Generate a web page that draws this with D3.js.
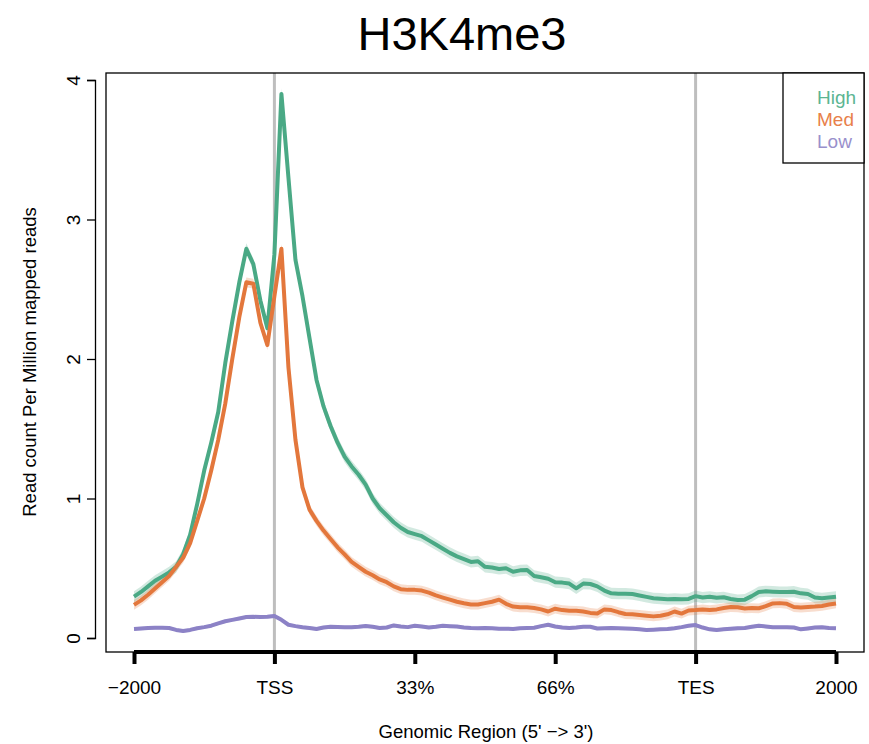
<!DOCTYPE html>
<html>
<head>
<meta charset="utf-8">
<script src="https://cdn.jsdelivr.net/npm/d3@7"></script>
<style>
  html, body { margin: 0; padding: 0; background: #fff; }
  svg { display: block; font-family: "Liberation Sans", Arial, Helvetica, sans-serif; }
</style>
</head>
<body>
<svg id="chart" width="869" height="744"></svg>
<script>
// ---- data ----
const title = "H3K4me3";
const xTickPositions = [0, 20, 40, 60, 80, 100];
const xTickLabels = ["\u22122000", "TSS", "33%", "66%", "TES", "2000"];
const yTicks = [0, 1, 2, 3, 4];
const seriesNames = ["High", "Med", "Low"];
const seriesColors = ["#4aa985", "#e3773c", "#8c82c6"];
const legendColors = ["#5cb592", "#e8804a", "#9990cc"];
const bandHalfWidth = [0.04, 0.035, 0.012];

const high = [0.296,0.33,0.37,0.41,0.44,0.47,0.51,0.60,0.74,0.96,
  1.20,1.40,1.62,1.97,2.27,2.55,2.79,2.68,2.42,2.22,
  2.75,3.90,3.30,2.71,2.45,2.15,1.85,1.66,1.52,1.40,
  1.30,1.23,1.17,1.10,1.00,0.93,0.88,0.83,0.79,0.76,
  0.745,0.73,0.70,0.67,0.64,0.61,0.585,0.565,0.545,0.55,
  0.51,0.505,0.495,0.50,0.475,0.485,0.487,0.445,0.435,0.425,
  0.40,0.397,0.39,0.356,0.39,0.387,0.37,0.34,0.32,0.318,
  0.318,0.315,0.305,0.295,0.285,0.282,0.278,0.28,0.278,0.28,
  0.30,0.29,0.295,0.288,0.292,0.28,0.272,0.275,0.30,0.33,
  0.335,0.332,0.33,0.33,0.332,0.32,0.315,0.29,0.285,0.29,0.296];

const med = [0.237,0.27,0.31,0.355,0.40,0.445,0.51,0.575,0.68,0.84,
  1.00,1.20,1.42,1.68,2.00,2.30,2.55,2.54,2.26,2.10,
  2.45,2.79,1.94,1.42,1.08,0.92,0.84,0.77,0.71,0.65,
  0.60,0.545,0.51,0.475,0.45,0.42,0.40,0.37,0.35,0.345,
  0.345,0.34,0.325,0.305,0.29,0.275,0.26,0.249,0.24,0.24,
  0.25,0.26,0.275,0.245,0.225,0.22,0.22,0.215,0.205,0.19,
  0.21,0.20,0.196,0.195,0.19,0.18,0.175,0.205,0.20,0.185,
  0.172,0.17,0.165,0.16,0.155,0.16,0.17,0.19,0.175,0.197,
  0.20,0.205,0.20,0.205,0.215,0.222,0.22,0.212,0.215,0.213,
  0.228,0.248,0.25,0.245,0.222,0.218,0.222,0.225,0.23,0.24,0.248];

const low = [0.065,0.068,0.072,0.074,0.074,0.072,0.058,0.05,0.058,0.07,
  0.078,0.088,0.105,0.12,0.13,0.14,0.15,0.152,0.15,0.152,
  0.158,0.13,0.095,0.085,0.077,0.072,0.065,0.075,0.08,0.078,
  0.077,0.077,0.08,0.086,0.08,0.072,0.075,0.09,0.082,0.078,
  0.088,0.082,0.076,0.08,0.088,0.085,0.082,0.076,0.072,0.07,
  0.072,0.07,0.066,0.066,0.065,0.07,0.072,0.074,0.085,0.095,
  0.082,0.075,0.072,0.075,0.08,0.081,0.068,0.07,0.072,0.07,
  0.068,0.066,0.062,0.058,0.06,0.062,0.064,0.07,0.078,0.088,
  0.093,0.075,0.062,0.057,0.062,0.066,0.07,0.072,0.08,0.088,
  0.082,0.077,0.077,0.077,0.075,0.062,0.068,0.075,0.077,0.072,0.07];

const seriesValues = [high, med, low];

// ---- layout ----
const svg = d3.select("#chart");
const box = {left: 106, top: 73, right: 864, bottom: 652};
const x = d3.scaleLinear().domain([0, 100]).range([134, 836]);
const y = d3.scaleLinear().domain([0, 4]).range([638, 80]);

// title
svg.append("text").attr("x", 462).attr("y", 50)
  .attr("text-anchor", "middle").attr("font-size", 47).attr("fill", "#000")
  .text(title);

// vertical grey lines at TSS and TES
[20, 80].forEach(v => {
  svg.append("line").attr("x1", x(v)).attr("x2", x(v))
    .attr("y1", box.top).attr("y2", box.bottom)
    .attr("stroke", "#bebebe").attr("stroke-width", 3);
});

// bands and lines
const idx = d3.range(101);
seriesValues.forEach((vals, s) => {
  const area = d3.area()
    .x(i => x(i))
    .y0(i => y(vals[i] - bandHalfWidth[s]))
    .y1(i => y(vals[i] + bandHalfWidth[s]));
  svg.append("path").datum(idx).attr("d", area)
    .attr("fill", seriesColors[s]).attr("fill-opacity", 0.25);
});
seriesValues.forEach((vals, s) => {
  const line = d3.line().x(i => x(i)).y(i => y(vals[i]));
  svg.append("path").datum(idx).attr("d", line)
    .attr("fill", "none").attr("stroke", seriesColors[s])
    .attr("stroke-width", 4).attr("stroke-linejoin", "round");
});

// plot box
svg.append("rect").attr("x", box.left).attr("y", box.top)
  .attr("width", box.right - box.left).attr("height", box.bottom - box.top)
  .attr("fill", "none").attr("stroke", "#000").attr("stroke-width", 1.3);

// y axis (R style, offset to the left)
const yAxis = d3.axisLeft(y).tickValues(yTicks).tickSize(8).tickFormat(d3.format("d"));
const gy = svg.append("g").attr("transform", "translate(95,0)").call(yAxis);
gy.select(".domain").attr("stroke-width", 1.3);
gy.selectAll(".tick line").attr("stroke-width", 1.3);
gy.selectAll(".tick text")
  .attr("font-size", 19).attr("font-family", "Liberation Sans, Arial, sans-serif")
  .attr("x", 0).attr("dy", "0.35em").attr("text-anchor", "middle")
  .attr("transform", "translate(-22,0) rotate(-90)");

// x axis (thick)
const xAxis = d3.axisBottom(x).tickValues(xTickPositions).tickSize(12)
  .tickFormat((d, i) => xTickLabels[i]);
const gx = svg.append("g").attr("transform", `translate(0,${box.bottom})`).call(xAxis);
gx.select(".domain").attr("stroke-width", 4).attr("d", `M${x(0)},0H${x(100)}`);
gx.selectAll(".tick line").attr("stroke-width", 4);
gx.selectAll(".tick text").attr("font-size", 19).attr("y", 29)
  .attr("font-family", "Liberation Sans, Arial, sans-serif").attr("fill", "#000");

// axis titles
svg.append("text").attr("x", 486).attr("y", 738).attr("text-anchor", "middle")
  .attr("font-size", 18.5).text("Genomic Region (5' \u2212> 3')");
svg.append("text").attr("transform", "translate(36,362) rotate(-90)")
  .attr("text-anchor", "middle").attr("font-size", 18.5)
  .text("Read count Per Million mapped reads");

// legend
svg.append("rect").attr("x", 783).attr("y", box.top)
  .attr("width", box.right - 783).attr("height", 163 - box.top)
  .attr("fill", "#fff").attr("stroke", "#000").attr("stroke-width", 1.3);
seriesNames.forEach((n, s) => {
  svg.append("text").attr("x", 817).attr("y", 104 + s * 22)
    .attr("font-size", 19).attr("fill", legendColors[s]).text(n);
});
</script>
</body>
</html>
